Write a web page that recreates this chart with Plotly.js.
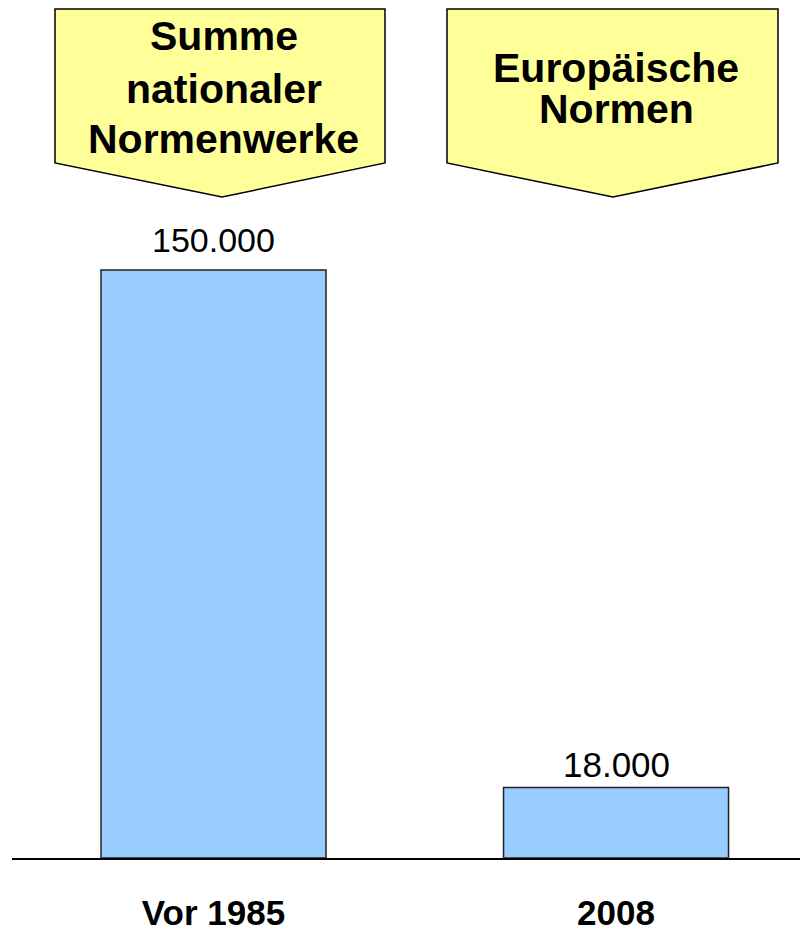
<!DOCTYPE html>
<html>
<head>
<meta charset="utf-8">
<script src="https://cdn.plot.ly/plotly-3.0.1.min.js"></script>
<style>html,body{margin:0;padding:0;background:#fff;overflow:hidden;}</style>
</head>
<body>
<div id="chart" style="width:800px;height:933px;"></div>
<script>
// ---- data ----
const categories = ["Vor 1985", "2008"];
const values = [150000, 18000];
const valueLabels = ["150.000", "18.000"];
const callout1Lines = ["Summe", "nationaler", "Normenwerke"];
const callout2Lines = ["Europäische", "Normen"];

// ---- layout geometry (pixels) ----
const W = 800, H = 933, ML = 12, MR = 0, MT = 0, MB = 75;
const PW = W - ML - MR, PH = H - MT - MB;
const px = x => (x - ML) / PW;
const py = y => (PH + MT - y) / PH;
const pathFrom = pts => pts.map((p, i) => (i ? 'L' : 'M') + px(p[0]).toFixed(5) + ',' + py(p[1]).toFixed(5)).join(' ') + ' Z';

const shapes = [
  {type: 'path', xref: 'paper', yref: 'paper', layer: 'above',
   path: pathFrom([[55, 9], [385, 9], [385, 163], [222, 197], [55, 163]]),
   fillcolor: '#FFFF99', line: {color: '#000000', width: 1.5}},
  {type: 'path', xref: 'paper', yref: 'paper', layer: 'above',
   path: pathFrom([[447, 9], [778, 9], [778, 163], [613, 197], [447, 163]]),
   fillcolor: '#FFFF99', line: {color: '#000000', width: 1.5}}
];

const FONT = 'Liberation Sans, Arial, sans-serif';
const annotations = [];
const c1y = [36, 89, 139];
callout1Lines.forEach((t, i) => annotations.push({
  xref: 'paper', yref: 'paper', x: px(224), y: py(c1y[i]), text: '<b>' + t + '</b>',
  showarrow: false, xanchor: 'center', yanchor: 'middle',
  font: {family: FONT, size: 41, color: '#000'}
}));
const c2y = [68, 109];
callout2Lines.forEach((t, i) => annotations.push({
  xref: 'paper', yref: 'paper', x: px(616), y: py(c2y[i]), text: '<b>' + t + '</b>',
  showarrow: false, xanchor: 'center', yanchor: 'middle',
  font: {family: FONT, size: 41, color: '#000'}
}));
const valShift = [30, 23];
const valSize = [34, 35];
categories.forEach((c, i) => annotations.push({
  x: i, y: values[i], xref: 'x', yref: 'y', text: valueLabels[i],
  showarrow: false, xanchor: 'center', yanchor: 'middle', yshift: valShift[i],
  font: {family: FONT, size: valSize[i], color: '#000'}
}));

const yMax = values[0] * PH / (858 - 270);

const data = [{
  type: 'bar', x: categories, y: values, width: 0.559,
  marker: {color: '#99CCFF', line: {color: '#222222', width: 1.5}},
  hoverinfo: 'none'
}];

const layout = {
  width: W, height: H,
  margin: {l: ML, r: MR, t: MT, b: MB, pad: 0},
  paper_bgcolor: '#ffffff', plot_bgcolor: '#ffffff',
  showlegend: false,
  xaxis: {
    type: 'category', range: [-0.5006, 1.457],
    showline: true, linecolor: '#000000', linewidth: 1.5,
    showgrid: false, zeroline: false, ticks: '',
    ticklabelstandoff: 23,
    tickfont: {family: FONT, size: 35, color: '#000', weight: 'bold'},
    fixedrange: true
  },
  yaxis: {
    range: [0, yMax], visible: false, showgrid: false, zeroline: false, fixedrange: true
  },
  shapes: shapes,
  annotations: annotations
};

Plotly.newPlot('chart', data, layout, {displayModeBar: false, staticPlot: true});
</script>
</body>
</html>
